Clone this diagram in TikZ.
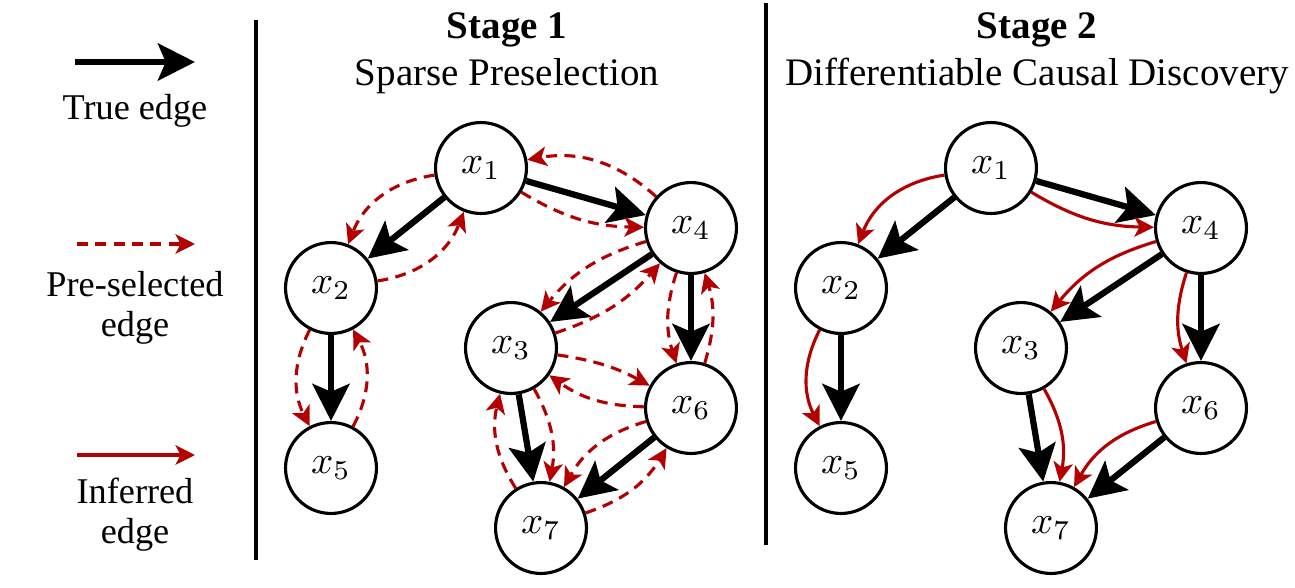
\documentclass[tikz,border=0pt]{standalone}
\usepackage{fontspec}
\setmainfont{Liberation Serif}
\usetikzlibrary{arrows.meta}
\definecolor{red3}{HTML}{B30000}

\begin{document}
\begin{tikzpicture}[
		x=0.009013cm, y=-0.009013cm,		% 1 Einheit = 1 Pixel, y nach unten
		var/.style={draw, circle, line width=0.8pt, minimum size=0.82cm, inner sep=0pt},
		trueedge/.style={-{Stealth[length=9.5pt, width=9.5pt, inset=2pt]}, line width=1.6pt},
		preedge/.style={-{Stealth[length=5pt, width=5pt, inset=1.3pt]}, red3, line width=0.8pt, dash pattern=on 2.8pt off 1.9pt},
		infedge/.style={-{Stealth[length=5pt, width=5pt, inset=1.3pt]}, red3, line width=0.8pt},
		sepline/.style={line width=0.8pt},
		legtext/.style={align=center, font=\rmfamily\fontsize{9.3}{10.2}\selectfont},
		title/.style={align=center, font=\rmfamily\fontsize{10}{12}\selectfont}
	]
	\useasboundingbox (0,0) rectangle (1295,587);
	
	% Legende
	\coordinate (lt0) at (75,62);
	\coordinate (lt1) at (195,62);
	\coordinate (lp0) at (77,244);
	\coordinate (lp1) at (195,244);
	\coordinate (li0) at (77,455);
	\coordinate (li1) at (195,455);
	\draw[trueedge] (lt0) -- (lt1);
	\draw[preedge] (lp0) -- (lp1);
	\draw[infedge] (li0) -- (li1);
	\node[legtext, anchor=base] (ltrue) at (135,119) {True edge};
	\node[legtext, anchor=base] (lpre) at (135,336) {Pre-selected\\edge};
	\node[legtext, anchor=base] (linf) at (135,543) {Inferred\\edge};
	
	% Trennlinien
	\coordinate (s1o) at (256,20);
	\coordinate (s1u) at (256,560);
	\coordinate (s2o) at (766,3);
	\coordinate (s2u) at (766,545);
	\draw[sepline] (s1o) -- (s1u);
	\draw[sepline] (s2o) -- (s2u);
	
	% Titel
	\node[title, anchor=base] (t1) at (507,85) {\textbf{Stage 1}\\Sparse Preselection};
	\node[title, anchor=base] (t2) at (1037,85) {\textbf{Stage 2}\\Differentiable Causal Discovery};
	
	% Stufe 1: Knoten
	\node[var] (a1) at (481,168) {$x_1$};
	\node[var] (a2) at (331,288) {$x_2$};
	\node[var] (a3) at (511,348) {$x_3$};
	\node[var] (a4) at (691,228) {$x_4$};
	\node[var] (a5) at (331,468) {$x_5$};
	\node[var] (a6) at (691,408) {$x_6$};
	\node[var] (a7) at (541,528) {$x_7$};
	
	% Stufe 1: wahre Kanten
	\draw[trueedge] (a1) -- (a2);
	\draw[trueedge] (a1) -- (a4);
	\draw[trueedge] (a2) -- (a5);
	\draw[trueedge] (a4) -- (a3);
	\draw[trueedge] (a4) -- (a6);
	\draw[trueedge] (a3) -- (a7);
	\draw[trueedge] (a6) -- (a7);
	
	% Stufe 1: vorausgewaehlte Kanten
	\draw[preedge] (a1) to[bend right=30] (a2);
	\draw[preedge] (a2) to[bend right=30] (a1);
	\draw[preedge] (a1) to[bend right=15] (a4);
	\draw[preedge] (a4) to[bend right=26] (a1);
	\draw[preedge] (a2) to[bend right=27] (a5);
	\draw[preedge] (a5) to[bend right=28] (a2);
	\draw[preedge] (a4) to[bend right=17] (a3);
	\draw[preedge] (a3) to[bend right=15] (a4);
	\draw[preedge] (a4) to[bend right=18] (a6);
	\draw[preedge] (a6) to[bend right=17] (a4);
	\draw[preedge] (a3) to[bend left=10] (a6);
	\draw[preedge] (a6) to[bend left=17] (a3);
	\draw[preedge] (a3) to[bend left=20] (a7);
	\draw[preedge] (a7) to[bend left=23] (a3);
	\draw[preedge] (a6) to[bend right=22] (a7);
	\draw[preedge] (a7) to[bend right=20] (a6);
	
	% Stufe 2: Knoten
	\node[var] (b1) at (991,168) {$x_1$};
	\node[var] (b2) at (841,288) {$x_2$};
	\node[var] (b3) at (1021,348) {$x_3$};
	\node[var] (b4) at (1201,228) {$x_4$};
	\node[var] (b5) at (841,468) {$x_5$};
	\node[var] (b6) at (1201,408) {$x_6$};
	\node[var] (b7) at (1051,528) {$x_7$};
	
	% Stufe 2: wahre Kanten
	\draw[trueedge] (b1) -- (b2);
	\draw[trueedge] (b1) -- (b4);
	\draw[trueedge] (b2) -- (b5);
	\draw[trueedge] (b4) -- (b3);
	\draw[trueedge] (b4) -- (b6);
	\draw[trueedge] (b3) -- (b7);
	\draw[trueedge] (b6) -- (b7);
	
	% Stufe 2: gefolgerte Kanten
	\draw[infedge] (b1) to[bend right=30] (b2);
	\draw[infedge] (b1) to[bend right=15] (b4);
	\draw[infedge] (b2) to[bend right=27] (b5);
	\draw[infedge] (b4) to[bend right=17] (b3);
	\draw[infedge] (b4) to[bend right=18] (b6);
	\draw[infedge] (b3) to[bend left=20] (b7);
	\draw[infedge] (b6) to[bend right=22] (b7);
	
\end{tikzpicture}
\end{document}
